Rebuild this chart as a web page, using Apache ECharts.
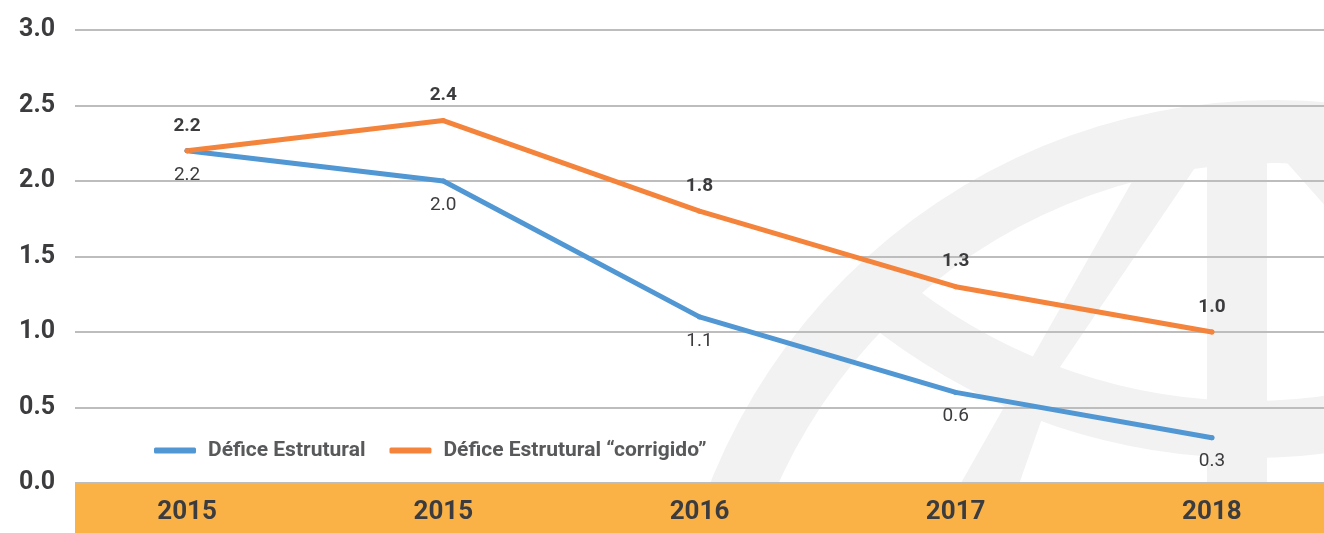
<!DOCTYPE html>
<html>
<head>
<meta charset="utf-8">
<script src="https://cdn.jsdelivr.net/npm/echarts@6/dist/echarts.min.js"></script>
<style>
html,body{margin:0;padding:0;background:#fff;overflow:hidden}
#main{width:1340px;height:533px}
</style>
</head>
<body>
<div id="main"></div>
<script>
var anos = ['2015', '2015', '2016', '2017', '2018'];
var deficeEstrutural = [2.2, 2.0, 1.1, 0.6, 0.3];
var deficeCorrigido = [2.2, 2.4, 1.8, 1.3, 1.0];
var nomes = ['Défice Estrutural', 'Défice Estrutural “corrigido”'];

var azul = '#5097D3';
var laranja = '#F4843C';
var texto = '#3c3c3f';
var marca = '#f2f2f2';

// o div tem 1340px; a janela mostra so 1324 (a ultima categoria fica mais perto da borda)
var dom = document.getElementById('main');
var myChart = echarts.init(dom);

var option = {
    animation: false,
    textStyle: { fontFamily: 'Roboto' },
    graphic: [
        // marca de agua ao fundo
        { type: 'ring', z: -10, shape: { cx: 1275, cy: 708, r: 608, r0: 545 }, style: { fill: marca } },
        { type: 'sector', z: -10, shape: { cx: 1250, cy: -151, r0: 552, r: 609, startAngle: 1.0, endAngle: 2.3 }, style: { fill: marca } },
        { type: 'rect', z: -10, shape: { x: 1207, y: 150, width: 60, height: 340 }, style: { fill: marca } },
        { type: 'polygon', z: -10, shape: { points: [[957, 490], [1017, 490], [1060, 367], [1207, 150], [1150, 150]] }, style: { fill: marca } },
        { type: 'polygon', z: -10, shape: { points: [[1280, 155], [1345, 155], [1550, 380], [1480, 380]] }, style: { fill: marca } },
        // faixa laranja do eixo
        { type: 'rect', z: -5, shape: { x: 75, y: 484, width: 1265, height: 49 }, style: { fill: '#FAB246' } }
    ],
    legend: {
        data: nomes,
        left: 149,
        top: 435,
        icon: 'roundRect',
        itemWidth: 42,
        itemHeight: 6,
        itemGap: 24,
        textStyle: { fontSize: 21, fontWeight: 'bold', color: '#58595b', padding: [0, 0, 0, 7] }
    },
    grid: [
        { left: 75, right: 0, top: 30, bottom: 50 },
        { left: 59, right: 0, top: 30, bottom: 50 }
    ],
    xAxis: [
        { gridIndex: 0, type: 'category', data: anos, show: false },
        {
            gridIndex: 1,
            type: 'category',
            data: anos,
            boundaryGap: true,
            axisLine: { show: false },
            axisTick: { show: false },
            axisLabel: { margin: 16, fontSize: 26, fontWeight: 'bold', color: texto }
        }
    ],
    yAxis: [
        {
            gridIndex: 0,
            type: 'value',
            min: 0,
            max: 3,
            interval: 0.5,
            axisLine: { show: false },
            axisTick: { show: false },
            axisLabel: {
                margin: 20,
                fontSize: 25,
                fontWeight: 'bold',
                color: texto,
                formatter: function (v) { return v.toFixed(1); }
            },
            splitLine: { lineStyle: { color: '#bdbdbd', width: 2 } }
        },
        { gridIndex: 1, type: 'value', min: 0, max: 3, interval: 0.5, show: false, splitLine: { show: false } }
    ],
    series: [
        {
            name: nomes[0],
            type: 'line',
            xAxisIndex: 1,
            yAxisIndex: 1,
            data: deficeEstrutural,
            color: azul,
            symbol: 'circle',
            symbolSize: 5,
            lineStyle: { width: 5, color: azul, cap: 'round', join: 'round' },
            label: {
                show: true,
                position: 'bottom',
                distance: 12,
                fontSize: 19,
                color: texto,
                formatter: function (p) { return p.value.toFixed(1); }
            }
        },
        {
            name: nomes[1],
            type: 'line',
            xAxisIndex: 1,
            yAxisIndex: 1,
            data: deficeCorrigido,
            color: laranja,
            symbol: 'circle',
            symbolSize: 5,
            lineStyle: { width: 5, color: laranja, cap: 'round', join: 'round' },
            label: {
                show: true,
                position: 'top',
                distance: 13,
                fontSize: 19,
                fontWeight: 'bold',
                color: texto,
                formatter: function (p) { return p.value.toFixed(1); }
            }
        }
    ]
};

myChart.setOption(option);
</script>
</body>
</html>
